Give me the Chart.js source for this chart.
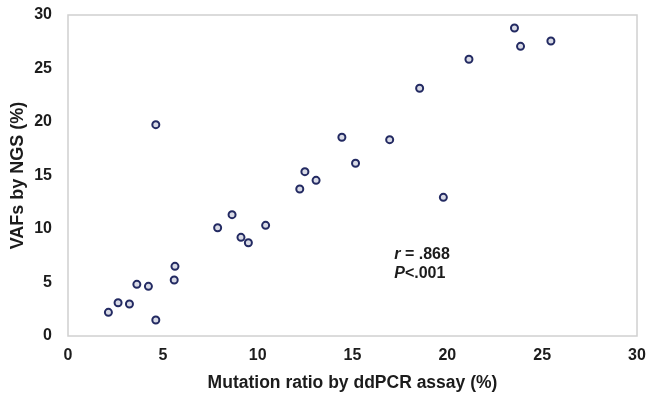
<!DOCTYPE html>
<html>
<head>
<meta charset="utf-8">
<script src="https://cdn.jsdelivr.net/npm/chart.js@4"></script>
<style>
  html, body { margin: 0; padding: 0; background: #fff; }
  #wrap { width: 648px; height: 395px; }
</style>
</head>
<body>
<div id="wrap"><canvas id="chart" width="648" height="395"></canvas></div>
<script>
// ddPCR mutation ratio (%) vs NGS VAF (%)
const ddpcrRatio = [2.13, 2.64, 3.24, 3.63, 4.24, 4.63, 5.60, 5.64, 4.63, 7.89, 8.65, 9.12, 9.51, 10.42,
  12.22, 13.08, 12.49, 14.44, 15.16, 16.96, 18.54, 19.79, 21.14, 23.54, 23.86, 25.46];
const ngsVaf = [2.21, 3.11, 2.99, 4.83, 4.64, 1.50, 5.23, 6.51, 19.75, 10.12, 11.34, 9.22, 8.72, 10.34,
  13.74, 14.55, 15.36, 18.57, 16.14, 18.35, 23.15, 12.96, 25.86, 28.79, 27.07, 27.57];
const xTicks = [0, 5, 10, 15, 20, 25, 30];
const yTicks = [0, 5, 10, 15, 20, 25, 30];
const statLines = [['r', ' = .868'], ['P', '<.001']];

const family = '"Liberation Sans", Arial, sans-serif';
const tickFont = { family, size: 16, weight: 'bold' };
const textColor = '#1c1c1c';

// light gray frame round the plot area + the r / P note
const framePlugin = {
  id: 'frame',
  afterDraw(chart) {
    const { ctx, chartArea: a, scales } = chart;
    ctx.save();
    ctx.strokeStyle = '#d0d0d0';
    ctx.lineWidth = 1.5;
    ctx.strokeRect(a.left, a.top, a.right - a.left, a.bottom - a.top);

    ctx.fillStyle = textColor;
    ctx.textBaseline = 'middle';
    const x = scales.x.getPixelForValue(17.2);
    const y = scales.y.getPixelForValue(7.6);
    statLines.forEach(([it, rest], i) => {
      const ly = y + i * 19;
      ctx.font = 'italic bold 16px ' + family;
      ctx.fillText(it, x, ly);
      const w = ctx.measureText(it).width;
      ctx.font = 'bold 16px ' + family;
      ctx.fillText(rest, x + w, ly);
    });
    ctx.restore();
  }
};

new Chart(document.getElementById('chart'), {
  type: 'scatter',
  data: {
    datasets: [{
      data: ddpcrRatio.map((v, i) => ({ x: v, y: ngsVaf[i] })),
      pointRadius: 3.5,
      pointBorderWidth: 2,
      borderColor: '#232a62',
      backgroundColor: '#d9dbe6',
    }],
  },
  options: {
    responsive: false,
    animation: false,
    layout: { padding: { top: 15, right: 11, left: 0, bottom: 0 } },
    plugins: { legend: { display: false }, tooltip: { enabled: false } },
    scales: {
      x: {
        type: 'linear',
        min: 0, max: 30,
        afterBuildTicks: s => { s.ticks = xTicks.map(v => ({ value: v })); },
        afterFit: s => { s.height = 59; s.paddingLeft = 0; s.paddingRight = 0; },
        grid: { display: false },
        border: { display: false },
        ticks: { font: tickFont, color: textColor, padding: 2 },
        title: { display: true, text: 'Mutation ratio by ddPCR assay (%)', font: { family, size: 17.5, weight: 'bold' }, color: textColor, padding: { top: 0, bottom: 1 } },
      },
      y: {
        type: 'linear',
        min: 0, max: 30,
        afterBuildTicks: s => { s.ticks = yTicks.map(v => ({ value: v })); },
        afterFit: s => { s.width = 68; s.paddingTop = 0; s.paddingBottom = 0; },
        grid: { display: false },
        border: { display: false },
        ticks: { font: tickFont, color: textColor, padding: 8 },
        title: { display: true, text: 'VAFs by NGS (%)', font: { family, size: 18, weight: 'bold' }, color: textColor, padding: { top: 7, bottom: 0 } },
      },
    },
  },
  plugins: [framePlugin],
});
</script>
</body>
</html>
